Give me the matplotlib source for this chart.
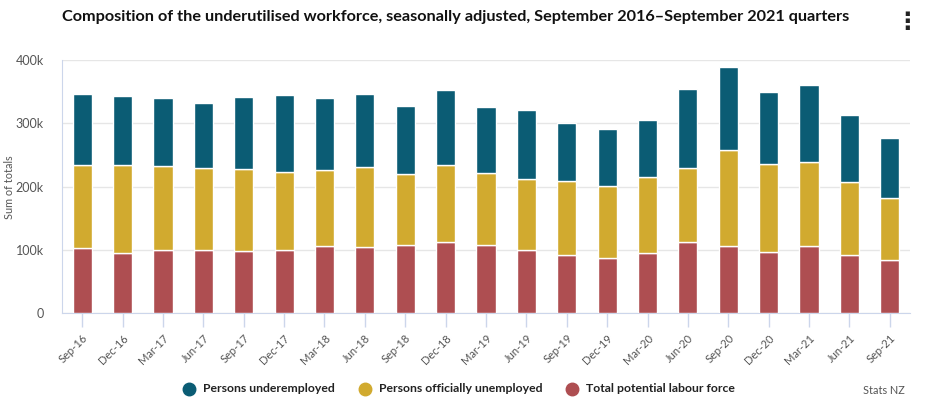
import matplotlib
matplotlib.use("Agg")
import matplotlib.pyplot as plt
from matplotlib.lines import Line2D
import numpy as np

quarters = ["Sep-16", "Dec-16", "Mar-17", "Jun-17", "Sep-17", "Dec-17", "Mar-18",
            "Jun-18", "Sep-18", "Dec-18", "Mar-19", "Jun-19", "Sep-19", "Dec-19",
            "Mar-20", "Jun-20", "Sep-20", "Dec-20", "Mar-21", "Jun-21", "Sep-21"]

# stacked tops (thousands)
potential = [102.0, 94.7, 99.5, 99.5, 97.9, 99.5, 105.3, 104.2, 107.4, 112.1, 107.0,
             99.5, 91.6, 86.8, 94.7, 112.1, 105.3, 96.3, 105.3, 91.6, 83.7]
unemp_top = [234.7, 234.7, 232.0, 229.0, 227.4, 222.6, 225.3, 230.5, 219.5, 233.7, 222.1,
             211.6, 208.4, 200.5, 214.7, 229.0, 257.4, 235.3, 238.4, 206.8, 181.6]
total_top = [346.8, 343.7, 340.0, 332.6, 341.6, 345.3, 340.0, 346.8, 327.9, 352.6, 325.8,
             321.0, 301.0, 291.0, 305.3, 354.2, 389.5, 349.5, 361.1, 313.7, 277.4]

potential = np.array(potential) * 1000
unemployed = np.array(unemp_top) * 1000 - potential
underemployed = np.array(total_top) * 1000 - np.array(unemp_top) * 1000

series_names = ["Persons underemployed", "Persons officially unemployed",
                "Total potential labour force"]
colors = ["#0b5c74", "#d1aa2f", "#ae4e51"]

plt.rcParams['font.family'] = ['Lato', 'DejaVu Sans']

fig = plt.figure(figsize=(9.31, 4.07), dpi=100)
ax = fig.add_axes([62/931, 94/407, 848/931, 253/407])

x = np.arange(len(quarters))
w = 0.475
ax.bar(x, potential, w, color=colors[2], edgecolor="white", linewidth=1, zorder=3)
ax.bar(x, unemployed, w, bottom=potential, color=colors[1], edgecolor="white",
       linewidth=1, zorder=3)
ax.bar(x, underemployed, w, bottom=potential + unemployed, color=colors[0],
       edgecolor="white", linewidth=1, zorder=3)

ax.set_xlim(-0.5, len(quarters) - 0.5)
ax.set_ylim(0, 400000)
ax.set_yticks([0, 100000, 200000, 300000, 400000])
ax.set_yticklabels(["0", "100k", "200k", "300k", "400k"])
ax.yaxis.grid(True, color="#e6e6e6", linewidth=1, zorder=0)
ax.set_axisbelow(True)

ax.set_xticks(x)
ax.set_xticklabels(quarters, rotation=45, ha="right", rotation_mode="anchor")
ax.tick_params(axis="x", length=10, color="#ccd6eb", width=1, labelsize=8,
               labelcolor="#555555", pad=4)
ax.tick_params(axis="y", length=0, labelsize=9, labelcolor="#555555", pad=13)

for s in ["top", "right"]:
    ax.spines[s].set_visible(False)
ax.spines["left"].set_color("#ccd6eb")
ax.spines["bottom"].set_color("#ccd6eb")

fig.text(10/931, 1 - 187/407, "Sum of totals", rotation=90, va="center",
         ha="center", fontsize=7.8, color="#555555")

fig.text(62/931, 1 - 17/407, "Composition of the underutilised workforce, seasonally adjusted, "
         "September 2016\u2013September 2021 quarters", fontsize=11.7, fontweight="bold",
         va="center", ha="left", color="#111111")
fig.text(907/931, 1 - 22/407, "\u22ee", fontsize=17, fontweight="bold", va="center",
         ha="center", color="#222222", family="DejaVu Sans")

# legend items placed like the original (circle + bold label)
legend_x = [189, 365, 572]
for lx, name, c in zip(legend_x, series_names, colors):
    fig.add_artist(Line2D([lx/931], [1 - 389/407], marker="o", markersize=9,
                          linestyle="", color=c, transform=fig.transFigure))
    fig.text((lx + 14)/931, 1 - 389/407, name, fontsize=8.8, fontweight="bold",
             ha="left", va="center", color="#222222")

fig.text(905/931, 1 - 391/407, "Stats NZ", fontsize=7.8, ha="right", va="center",
         color="#555555")

fig.savefig("out.png", dpi=100)
